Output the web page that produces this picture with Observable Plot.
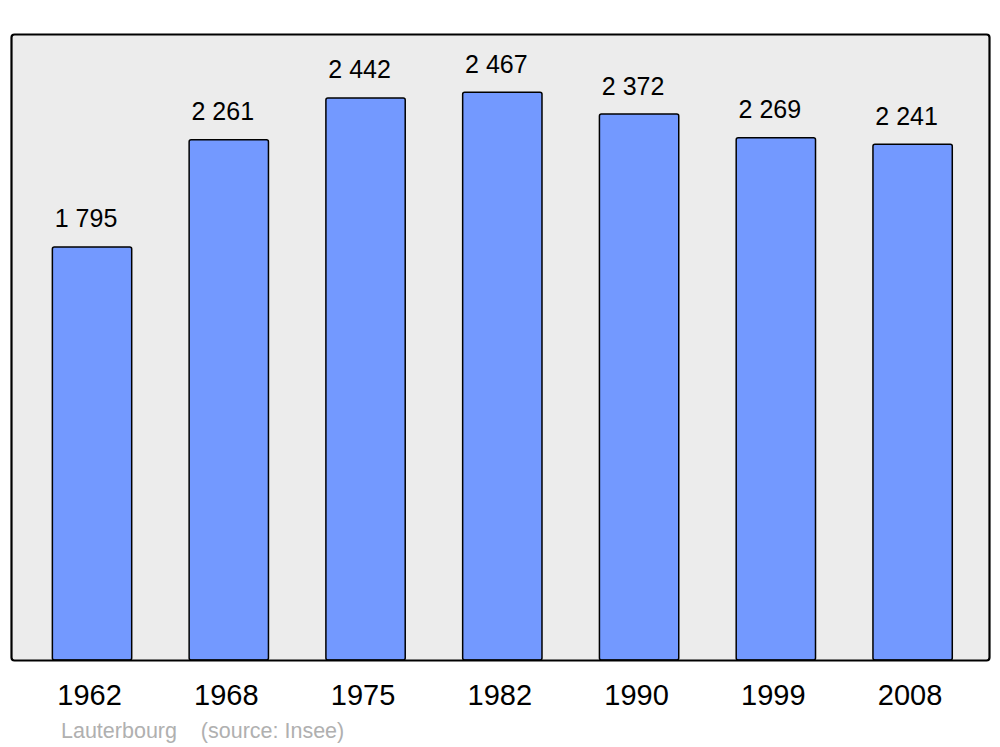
<!DOCTYPE html>
<html>
<head>
<meta charset="utf-8">
<script src="https://cdn.jsdelivr.net/npm/d3@7"></script>
<script src="https://cdn.jsdelivr.net/npm/@observablehq/plot@0.6"></script>
<style>
  body { margin: 0; background: #fff; font-family: "Liberation Sans", Arial, sans-serif; }
  #caption { font-size: 21.5px; line-height: 24px; color: #b0b0b0; padding-left: 61px; margin-top: 9px; white-space: pre; }
</style>
</head>
<body>
<div id="chart"></div>
<div id="caption">Lauterbourg    (source: Insee)</div>
<script>
const years = ["1962", "1968", "1975", "1982", "1990", "1999", "2008"];
const population = [1795, 2261, 2442, 2467, 2372, 2269, 2241];

const data = years.map((y, i) => ({year: y, pop: population[i]}));
const fmt = d3.formatLocale({thousands: "\u00a0", grouping: [3], decimal: ","}).format(",d");

const chart = Plot.plot({
  width: 1000,
  height: 710,
  marginLeft: 23.65,
  marginRight: 19,
  marginTop: 34,
  marginBottom: 50,
  style: {fontFamily: "'Liberation Sans', Arial, sans-serif", background: "#fff"},
  x: {domain: years, paddingInner: 0.42, paddingOuter: 0.21, round: false, label: null},
  y: {domain: [0, 2720], axis: null},
  marks: [
    Plot.frame({fill: "#ececec", stroke: "none", rx: 3, insetLeft: -12.65, insetRight: -8}),
    Plot.barY(data, {x: "year", y: "pop", fill: "#7399ff", stroke: "#000", strokeWidth: 1.5, rx: 2}),
    Plot.frame({fill: "none", stroke: "#000", strokeWidth: 2.2, rx: 3, insetLeft: -12.65, insetRight: -8}),
    Plot.text(data, {x: "year", y: "pop", text: d => fmt(d.pop), dy: -28, dx: -6.5, fontSize: 25, fill: "#000"}),
    Plot.axisX({tickSize: 0, tickPadding: 24, fontSize: 29, dx: -3, label: null, color: "#000"})
  ]
});
document.getElementById("chart").appendChild(chart);
</script>
</body>
</html>
